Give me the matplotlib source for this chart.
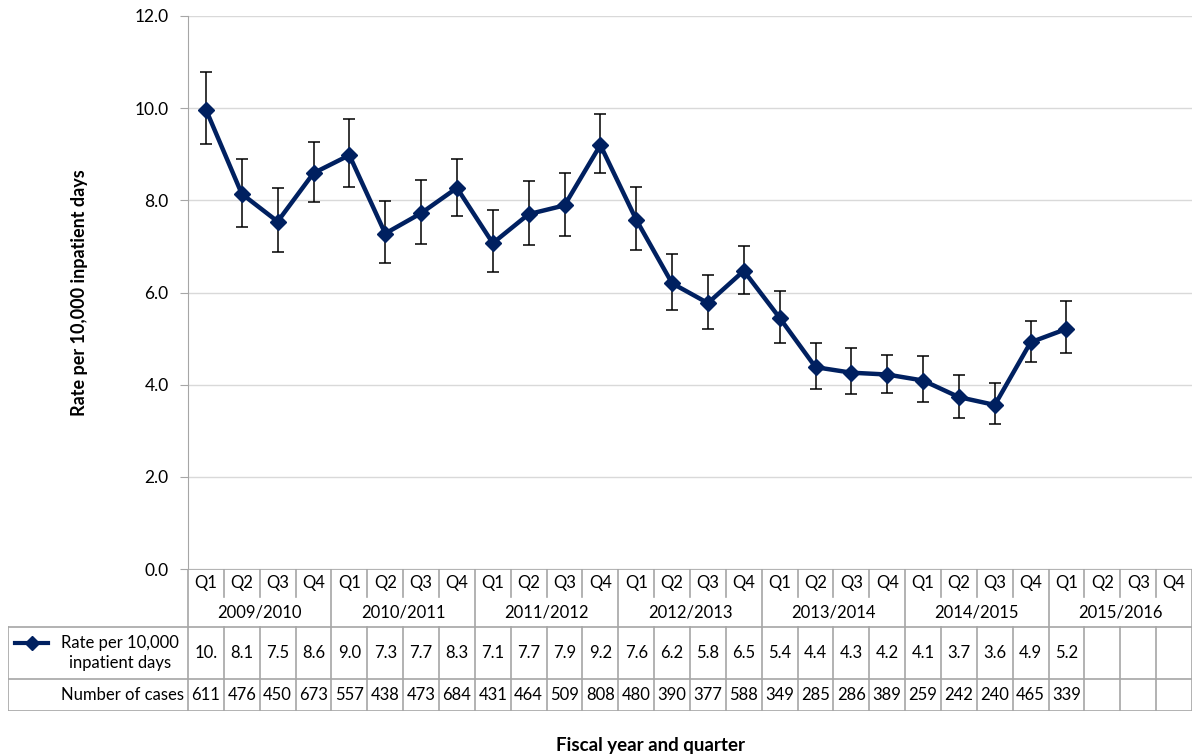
import numpy as np
import matplotlib.pyplot as plt
from matplotlib.lines import Line2D

plt.rcParams['font.family'] = ['Lato', 'DejaVu Sans']

years = ['2009/2010', '2010/2011', '2011/2012', '2012/2013', '2013/2014', '2014/2015', '2015/2016']
quarters = ['Q1', 'Q2', 'Q3', 'Q4']

# rate per 10,000 inpatient days
rate = [9.97, 8.14, 7.54, 8.59, 8.98, 7.28, 7.72, 8.27, 7.07, 7.70, 7.89, 9.20,
        7.58, 6.20, 5.77, 6.47, 5.45, 4.38, 4.26, 4.22, 4.09, 3.73, 3.56, 4.92, 5.21]
ci_hi = [10.78, 8.89, 8.27, 9.26, 9.76, 7.98, 8.44, 8.90, 7.78, 8.42, 8.60, 9.87,
         8.29, 6.84, 6.37, 7.01, 6.04, 4.90, 4.79, 4.65, 4.62, 4.21, 4.04, 5.38, 5.81]
ci_lo = [9.22, 7.43, 6.87, 7.96, 8.28, 6.63, 7.05, 7.67, 6.45, 7.03, 7.23, 8.59,
         6.93, 5.61, 5.21, 5.97, 4.90, 3.90, 3.80, 3.83, 3.62, 3.28, 3.15, 4.49, 4.69]
rate_lbl = ['10.', '8.1', '7.5', '8.6', '9.0', '7.3', '7.7', '8.3', '7.1', '7.7', '7.9', '9.2',
            '7.6', '6.2', '5.8', '6.5', '5.4', '4.4', '4.3', '4.2', '4.1', '3.7', '3.6', '4.9', '5.2']
cases = [611, 476, 450, 673, 557, 438, 473, 684, 431, 464, 509, 808,
         480, 390, 377, 588, 349, 285, 286, 389, 259, 242, 240, 465, 339]

navy = '#002060'
gcol = '#a6a6a6'
W, H = 1200, 756
ncat = len(years) * 4

fig = plt.figure(figsize=(12, 7.56), dpi=100)

# main plot, pixel box x 188..1192, y 16..569
ax = fig.add_axes([188 / W, 1 - 569 / H, 1004 / W, 553 / H])
x = np.arange(len(rate))
r = np.array(rate)
yerr = [r - np.array(ci_lo), np.array(ci_hi) - r]
ax.errorbar(x, r, yerr=yerr, fmt='none', ecolor='black', elinewidth=1.1, capsize=4, capthick=1.1, zorder=2)
ax.plot(x, r, color=navy, lw=3.2, marker='D', ms=8, zorder=3)
ax.set_xlim(-0.5, ncat - 0.5)
ax.set_ylim(0, 12)
ax.set_yticks(np.arange(0, 12.1, 2))
ax.set_yticklabels([f'{v:.1f}' for v in np.arange(0, 12.1, 2)], fontsize=12.5)
ax.set_xticks([])
ax.grid(axis='y', color='#d9d9d9', lw=1)
ax.set_axisbelow(True)
for s in ['top', 'right', 'bottom']:
    ax.spines[s].set_visible(False)
ax.spines['left'].set_color(gcol)
ax.tick_params(axis='y', color=gcol, length=6, pad=8)
ax.set_ylabel('Rate per 10,000 inpatient days', fontsize=13, fontweight='bold')
ax.yaxis.set_label_coords((88 - 188) / 1004, 0.5)

# data table underneath, pixel box x 8..1192, y 569..711
cw = 1004 / ncat
left = -0.5 - 180 / cw
tx = fig.add_axes([8 / W, 1 - 711 / H, 1184 / W, 142 / H])
tx.set_xlim(left, ncat - 0.5)
tx.set_ylim(142, 0)
tx.axis('off')
lk = dict(color=gcol, lw=1.2)
fs = 12
# horizontal lines
tx.plot([-0.5, ncat - 0.5], [0, 0], **lk)
tx.plot([left, ncat - 0.5], [58, 58], **lk)
tx.plot([left, ncat - 0.5], [110, 110], **lk)
tx.plot([left, ncat - 0.5], [142, 142], **lk)
tx.plot([left, left], [58, 142], **lk)
for i in range(ncat + 1):
    xb = i - 0.5
    if i % 4 == 0:
        tx.plot([xb, xb], [0, 142], **lk)
    else:
        tx.plot([xb, xb], [0, 28], **lk)
        tx.plot([xb, xb], [58, 142], **lk)
for i in range(ncat):
    tx.text(i, 14, quarters[i % 4], ha='center', va='center', fontsize=fs)
for j, yr in enumerate(years):
    tx.text(4 * j + 1.5, 43, yr, ha='center', va='center', fontsize=fs)
for i in range(len(rate_lbl)):
    tx.text(i, 84, rate_lbl[i], ha='center', va='center', fontsize=fs)
    tx.text(i, 126, str(cases[i]), ha='center', va='center', fontsize=fs)
lx0 = left + 7 / cw
tx.add_line(Line2D([lx0, lx0 + 33 / cw], [74, 74], color=navy, lw=3))
tx.plot([lx0 + 17 / cw], [74], marker='D', ms=7, color=navy)
tx.text(left + 112 / cw, 84, 'Rate per 10,000\ninpatient days', ha='center', va='center', fontsize=fs,
        linespacing=1.35)
tx.text(-0.5 - 4 / cw, 126, 'Number of cases', ha='right', va='center', fontsize=fs)

fig.text(650 / W, 1 - 745 / H, 'Fiscal year and quarter', ha='center', va='center', fontsize=13.5, fontweight='bold')

fig.savefig('out.png', dpi=100)
